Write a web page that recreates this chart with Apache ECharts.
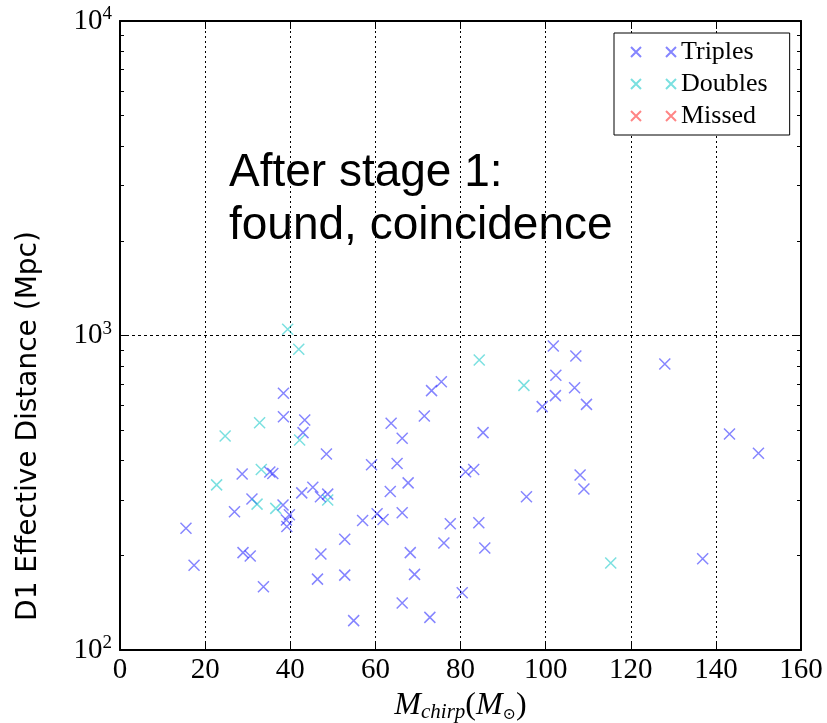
<!DOCTYPE html>
<html>
<head>
<meta charset="utf-8">
<script src="https://cdn.jsdelivr.net/npm/echarts@6.0.0/dist/echarts.min.js"></script>
<style>
  html, body { margin: 0; padding: 0; background: #fff; }
  #main { width: 827px; height: 723px; }
</style>
</head>
<body>
<div id="main"></div>
<script>
var myChart = echarts.init(document.getElementById('main'));

// chirp mass (x) and effective distance (y)
var triplesX = [38.4, 38.4, 43.4, 43.0, 48.5, 28.7, 35.2, 35.9, 42.7, 45.3, 47.1, 48.8, 31.0, 26.9, 38.3,
  39.8, 39.1, 39.2, 15.5, 57.0, 52.8, 28.9, 30.6, 47.2, 17.4, 46.4, 52.8, 33.7, 54.9,
  101.8, 107.1, 102.4, 75.5, 73.2, 106.8, 102.3, 109.6, 99.2, 71.5, 63.7, 66.3, 85.3, 59.1,
  65.1, 81.2, 83.1, 67.7, 63.5, 108.1, 109.0, 95.5, 60.4, 61.8, 66.3, 77.6, 84.3, 76.1,
  85.7, 68.2, 69.2, 80.4, 66.3, 72.8, 128.0, 143.2, 150.0, 136.9];
var triplesY = [655, 552, 539, 491, 420, 363, 368, 364, 316, 329, 307, 313, 302, 275, 289,
  269, 259, 247, 244, 258, 225, 204, 199, 202, 186, 168, 173, 159, 124,
  926, 861, 747, 713, 668, 682, 644, 604, 594, 555, 526, 471, 491, 388,
  392, 369, 375, 340, 319, 360, 325, 307, 271, 260, 273, 252, 254, 219,
  211, 204, 174, 152, 141, 127, 812, 486, 422, 195];

var doublesX = [39.4, 42.0, 32.8, 24.7, 42.2, 33.2, 22.7, 48.8, 32.2, 36.6, 84.4, 94.9, 115.3];
var doublesY = [1047, 904, 528, 479, 465, 375, 335, 300, 291, 282, 836, 694, 189];

var missedX = [];
var missedY = [];

var minorTicks = [200, 300, 400, 500, 600, 700, 800, 900, 2000, 3000, 4000, 5000, 6000, 7000, 8000, 9000];

function pairs(xs, ys) {
  return xs.map(function (x, i) { return [x, ys[i]]; });
}

var cross = 'path://M0,0L10,10M10,0L0,10';
var crossPair = 'path://M0,0L10,10M10,0L0,10M35,0L45,10M45,0L35,10';
var serif = 'Liberation Serif';

function yLabel(v) {
  return '{b|10}{s|' + Math.round(Math.log(v) / Math.LN10) + '}';
}

function logAxis(pos, showLine, ticks, len, labels) {
  return {
    type: 'log', logBase: 10, min: 100, max: 10000, position: pos,
    axisLine: { show: showLine, lineStyle: { color: '#000', width: 2 } },
    axisTick: { show: true, inside: true, length: len, customValues: ticks, lineStyle: { color: '#000', width: 1 } },
    axisLabel: labels ? {
      show: true, margin: 8, formatter: yLabel,
      rich: {
        b: { fontFamily: serif, fontSize: 29, color: '#000', lineHeight: 32 },
        s: { fontFamily: serif, fontSize: 19, color: '#000', verticalAlign: 'top', lineHeight: 18 }
      }
    } : { show: false },
    splitLine: { show: labels, lineStyle: { color: '#000', type: [3, 3], width: 1 } }
  };
}

option = {
  backgroundColor: '#fff',
  animation: false,
  grid: { left: 120, right: 26, top: 21, bottom: 73, outerBoundsMode: 'none', containLabel: false },
  legend: {
    orient: 'vertical',
    left: 614, top: 33,
    padding: [4, 22, 4, 16],
    itemGap: 2,
    itemWidth: 45, itemHeight: 10,
    borderColor: '#000', borderWidth: 1, backgroundColor: '#fff',
    textStyle: { fontFamily: serif, fontSize: 26, lineHeight: 30, color: '#000' },
    data: [
      { name: 'Triples', icon: crossPair },
      { name: 'Doubles', icon: crossPair },
      { name: 'Missed', icon: crossPair }
    ]
  },
  xAxis: [{
    type: 'value', min: 0, max: 160, interval: 20, position: 'bottom',
    axisLine: { lineStyle: { color: '#000', width: 2 } },
    axisTick: { inside: true, length: 8, lineStyle: { color: '#000' } },
    axisLabel: { fontFamily: serif, fontSize: 29, color: '#000', margin: 6 },
    splitLine: { show: true, lineStyle: { color: '#000', type: [2, 3], width: 1 } },
    name: '{m|M}{sub|chirp}{p|(}{m|M}{sub2|\u2299}{p|)}',
    nameLocation: 'middle',
    nameGap: 38,
    nameTextStyle: {
      rich: {
        m: { fontFamily: serif, fontStyle: 'italic', fontSize: 32, color: '#000', lineHeight: 34 },
        p: { fontFamily: serif, fontSize: 32, color: '#000', lineHeight: 34 },
        sub: { fontFamily: serif, fontStyle: 'italic', fontSize: 21, color: '#000', verticalAlign: 'bottom', lineHeight: 14 },
        sub2: { fontFamily: 'DejaVu Serif', fontSize: 16, color: '#000', verticalAlign: 'bottom', lineHeight: 12 }
      }
    }
  }, {
    type: 'value', min: 0, max: 160, interval: 20, position: 'top',
    axisLine: { lineStyle: { color: '#000', width: 2 } },
    axisTick: { inside: true, length: 8, lineStyle: { color: '#000' } },
    axisLabel: { show: false },
    splitLine: { show: false }
  }],
  yAxis: [
    logAxis('left', true, [100, 1000, 10000], 8, true),
    logAxis('left', false, minorTicks, 4, false),
    logAxis('right', true, [100, 1000, 10000], 8, false),
    logAxis('right', false, minorTicks, 4, false)
  ],
  graphic: [{
    type: 'text', left: 229, top: 147,
    style: {
      text: 'After stage 1:\nfound, coincidence',
      font: '46px "Liberation Sans"', lineHeight: 53, fill: '#000'
    }
  }, {
    type: 'text', x: 29, y: 426, rotation: Math.PI / 2,
    style: {
      text: 'D1 Effective Distance (Mpc)',
      font: '28px "DejaVu Sans"', fill: '#000', align: 'center', verticalAlign: 'middle'
    }
  }],
  series: [{
    name: 'Triples', type: 'scatter', symbol: cross, symbolSize: 11,
    itemStyle: { color: 'rgba(0,0,255,0.6)', borderColor: 'rgba(0,0,255,0.6)', borderWidth: 1.5 },
    data: pairs(triplesX, triplesY)
  }, {
    name: 'Doubles', type: 'scatter', symbol: cross, symbolSize: 11,
    itemStyle: { color: 'rgba(0,195,195,0.65)', borderColor: 'rgba(0,195,195,0.65)', borderWidth: 1.5 },
    data: pairs(doublesX, doublesY)
  }, {
    name: 'Missed', type: 'scatter', symbol: cross, symbolSize: 11,
    itemStyle: { color: 'rgba(255,0,0,0.6)', borderColor: 'rgba(255,0,0,0.6)', borderWidth: 1.5 },
    data: pairs(missedX, missedY)
  }]
};

myChart.setOption(option);
</script>
</body>
</html>
